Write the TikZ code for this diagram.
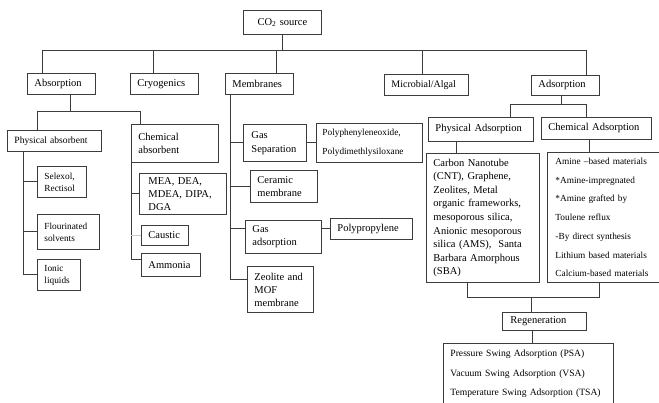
\documentclass[tikz,border=0pt]{standalone}
\usepackage{fontspec}
\setmainfont{Liberation Serif}
\usetikzlibrary{positioning}
\definecolor{ccborda}{HTML}{3C3C3C}
\definecolor{cccinzaclaro}{HTML}{C8C8C8}
\tikzset{
  ccbox/.style={draw=ccborda, line width=0.9pt, anchor=north west, align=left,
                inner xsep=7pt, inner ysep=2pt, font=\fontsize{10.5}{13}\selectfont},
  ccsmall/.style={ccbox, font=\fontsize{9.3}{12}\selectfont},
  ccline/.style={draw=ccborda, line width=0.9pt},
  cclinelight/.style={draw=cccinzaclaro, line width=0.9pt},
}
\begin{document}
\begin{tikzpicture}[x=1pt, y=-1pt, font=\fontsize{10.5}{13}\selectfont]
        \useasboundingbox (0,0) rectangle (659,403);
        % raiz e primeiro nivel
        \node[ccbox, align=center, text width=64pt, minimum height=24pt] (co2) at (243,10) {CO\textsubscript{2} source};
        \node[ccbox, text width=54pt, minimum height=21pt] (absorption) at (27,73) {Absorption};
        \node[ccbox, text width=54pt, minimum height=21pt] (cryogenics) at (130,73) {Cryogenics};
        \node[ccbox, text width=54pt, minimum height=21pt] (membranes) at (225,73) {Membranes};
        \node[ccbox, text width=70pt, minimum height=21pt, font=\fontsize{10}{12}\selectfont] (microbial) at (384,74) {Microbial/Algal};
        \node[ccbox, text width=54pt, minimum height=20pt] (adsorption) at (531,75) {Adsorption};
        % absorcao
        \node[ccsmall, text width=80pt, minimum height=21pt, font=\fontsize{9.6}{12}\selectfont] (physabs) at (7,130) {Physical absorbent};
        \node[ccbox, text width=73pt, minimum height=38pt] (chemabs) at (131,124) {Chemical\\absorbent};
        \node[ccsmall, text width=35pt, minimum height=31pt] (selexol) at (37,166) {Selexol,\\Rectisol};
        \node[ccsmall, text width=48pt, minimum height=35pt] (flour) at (37,214) {Flourinated\\solvents};
        \node[ccsmall, text width=29pt, minimum height=31pt] (ionic) at (37,259) {Ionic\\liquids};
        \node[ccbox, text width=69pt, inner xsep=9pt, minimum height=41pt] (mea) at (139,173) {MEA, DEA,\\MDEA, DIPA,\\DGA};
        \node[ccbox, text width=33pt, minimum height=20pt] (caustic) at (141,225) {Caustic};
        \node[ccbox, text width=45pt, minimum height=23pt] (ammonia) at (141,253) {Ammonia};
        % membranas
        \node[ccbox, text width=47pt, inner xsep=8pt, minimum height=37pt, font=\fontsize{10.5}{14}\selectfont] (gassep) at (243,124) {Gas\\Separation};
        \node[ccsmall, text width=94pt, inner xsep=6pt, minimum height=39pt, font=\fontsize{9.3}{19}\selectfont] (polyox) at (316,123) {Polyphenyleneoxide,\\Polydimethlysiloxane};
        \node[ccbox, text width=53pt, minimum height=32pt] (ceramic) at (250,170) {Ceramic\\membrane};
        \node[ccbox, text width=62pt, minimum height=33pt] (gasads) at (245,220) {Gas\\adsorption};
        \node[ccbox, text width=68pt, minimum height=21pt] (polyprop) at (330,218) {Polypropylene};
        \node[ccbox, text width=52pt, minimum height=46pt] (zeolite) at (247,266) {Zeolite and\\MOF\\membrane};
        % adsorcao
        \node[ccbox, text width=91pt, minimum height=24pt] (physads) at (428,117) {Physical Adsorption};
        \node[ccbox, text width=96pt, minimum height=22pt] (chemads) at (541,117) {Chemical Adsorption};
        \node[ccbox, text width=99pt, minimum height=129pt, font=\fontsize{10.5}{13.6}\selectfont] (carbon) at (426,153) {Carbon Nanotube\\(CNT), Graphene,\\Zeolites, Metal\\organic frameworks,\\mesoporous silica,\\Anionic mesoporous\\silica (AMS),\ \ Santa\\Barbara Amorphous\\(SBA)};
        \node[ccsmall, text width=96pt, inner xsep=8pt, minimum height=130pt, font=\fontsize{9.3}{18.7}\selectfont] (amine) at (547,152) {Amine --based materials\\{}*Amine-impregnated\\{}*Amine grafted by\\Toulene reflux\\-By direct synthesis\\Lithium based materials\\Calcium-based materials};
        \node[ccbox, text width=68pt, inner xsep=8pt, minimum height=18pt] (regen) at (502,312) {Regeneration};
        \node[ccbox, draw=none, text width=156pt, inner xsep=7pt, inner ysep=6.5pt, font=\fontsize{9.6}{19.5}\selectfont] (swing) at (443,343) {Pressure Swing Adsorption (PSA)\\Vacuum Swing Adsorption (VSA)\\Temperature Swing Adsorption (TSA)};
        \draw[ccline] ([yshift=-12pt]swing.south west) |- (swing.north east) -- ([yshift=-12pt]swing.south east);
        % ligacoes do primeiro nivel
        \draw[ccline] (co2.south) -- (co2.south |- 0,50);
        \draw[ccline] (42,50) -- (586,50);
        \foreach \no/\xb in {absorption/42, cryogenics/153, membranes/276, microbial/422, adsorption/586} {
            \draw[ccline] (\xb,50) -- (\xb,0 |- \no.north);
        }
        % ligacoes da absorcao
        \draw[ccline] (70,0 |- absorption.south) -- (70,111);
        \draw[ccline] (37,0 |- physabs.north) |- (140,111) -- (140,0 |- chemabs.north);
        \draw[ccline] (23,0 |- physabs.south) |- (ionic.west);
        \foreach \no in {selexol, flour} {
            \draw[ccline] (23,0 |- \no.west) -- (\no.west);
        }
        \draw[ccline] (chemabs.south west) |- ([yshift=5.5pt]ammonia.west);
        \draw[ccline] (chemabs.south west |- mea.west) -- (mea.west);
        \draw[cclinelight] (chemabs.south west |- caustic.west) -- (caustic.west);
        % ligacoes das membranas
        \draw[ccline] (230,0 |- membranes.south) |- ([yshift=10pt]zeolite.west);
        \foreach \no in {gassep, ceramic} {
            \draw[ccline] (230,0 |- \no.west) -- (\no.west);
        }
        \draw[ccline] (230,0 |- polyprop.west) -- (gasads.west |- polyprop.west);
        \draw[ccline] (gassep.east) -- (gassep.east -| polyox.west);
        \draw[ccline] (gasads.east |- polyprop.west) -- (polyprop.west);
        % ligacoes da adsorcao
        \draw[ccline] (561,0 |- adsorption.south) -- (561,104);
        \draw[ccline] (510,0 |- physads.north) |- (586,104) -- (586,0 |- chemads.north);
        \draw[ccline] (456,0 |- physads.south) -- (456,0 |- carbon.north);
        \draw[ccline] (589,0 |- chemads.south) -- (589,0 |- amine.north);
        \draw[ccline] (467,0 |- carbon.south) |- (599,297) -- (599,0 |- amine.south);
        \draw[ccline] (531,297) -- (531,0 |- regen.north);
        \draw[ccline] (532,0 |- regen.south) -- (532,0 |- swing.north);
    \end{tikzpicture}
\end{document}
